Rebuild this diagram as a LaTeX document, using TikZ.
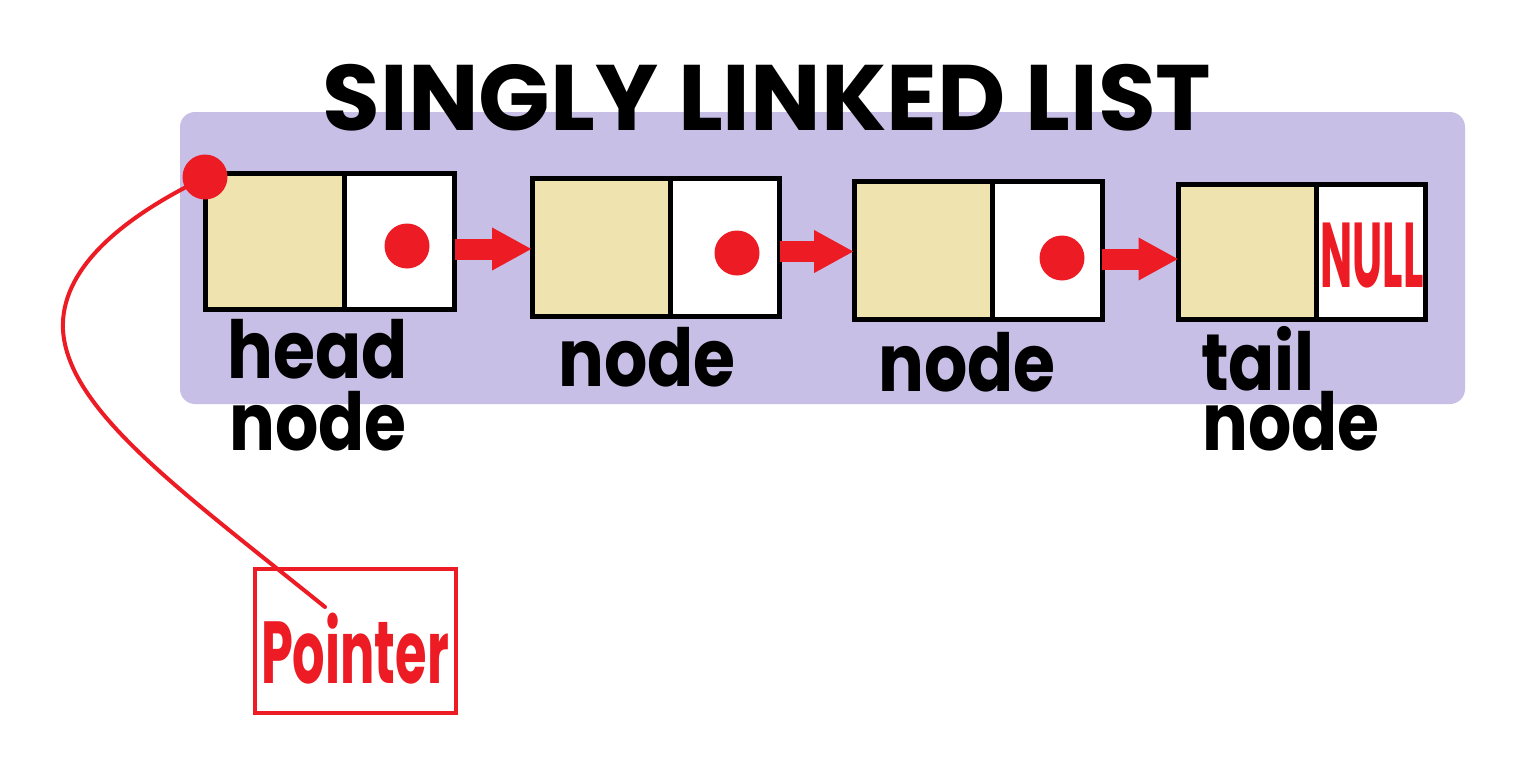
\documentclass[tikz,border=0pt]{standalone}
\usepackage{fontspec}
\setmainfont{Poppins}
\usetikzlibrary{arrows.meta,calc}
\definecolor{lav}{HTML}{C8BFE7}
\definecolor{tanc}{HTML}{EFE4B0}
\definecolor{pred}{HTML}{ED1C24}
\tikzset{
  cell/.style={draw=black, line width=5pt, inner sep=0pt, outer sep=0pt},
  datacell/.style={cell, fill=tanc},
  ptrcell/.style={cell, fill=white},
  reddot/.style={circle, fill=pred, minimum size=45pt, inner sep=0pt, outer sep=0pt},
  link/.style={draw=pred, line width=21pt, -{Triangle[length=40pt, width=40pt]}},
  lbl/.style={font=\bfseries\fontsize{80}{80}\selectfont, inner sep=0pt, anchor=base},
  ttl/.style={font=\bfseries\fontsize{93}{93}\selectfont, inner sep=0pt, anchor=base},
  redtxt/.style={inner sep=0pt, anchor=base, text=pred},
  ptrline/.style={draw=pred, line width=4pt, line cap=round},
  ptrbox/.style={draw=pred, line width=4pt, inner sep=0pt, minimum width=201pt, minimum height=144pt},
}
\begin{document}
\begin{tikzpicture}[x=1pt,y=-1pt]
\useasboundingbox (0,0) rectangle (1534,784);
\fill[white] (0,0) rectangle (1534,784);
\fill[lav, rounded corners=15pt] (180,112) rectangle (1465,404);
\node[ttl] (title) at (767,130) {\scalebox{1.01}[1]{SINGLY LINKED LIST}};

% cells
\node[datacell, minimum width=138.5pt, minimum height=136pt] (d1) at (274.75,241.5) {};
\node[ptrcell,  minimum width=110.5pt, minimum height=136pt] (p1) at (399.25,241.5) {};
\node[datacell, minimum width=138.5pt, minimum height=138pt] (d2) at (601.25,247.5) {};
\node[ptrcell,  minimum width=109pt,   minimum height=138pt] (p2) at (725,247.5) {};
\node[datacell, minimum width=138.7pt, minimum height=138pt] (d3) at (923.35,250.5) {};
\node[ptrcell,  minimum width=109.3pt, minimum height=138pt] (p3) at (1047.35,250.5) {};
\node[datacell, minimum width=137.5pt, minimum height=135pt] (d4) at (1247.25,252) {};
\node[ptrcell,  minimum width=109.5pt, minimum height=135pt] (p4) at (1370.75,252) {};

% dots
\node[reddot] (dot1) at (407,246) {};
\node[reddot] (dot2) at (737,253) {};
\node[reddot] (dot3) at (1062,258) {};
\node[reddot] (hdot) at (205,177) {};

% NULL
\node[redtxt, font=\bfseries\fontsize{92}{92}\selectfont] (null) at (1372,287) {\scalebox{0.465}[1]{NULL}};

% links
\draw[link] ($(p1.east)+(0,7.5)$) -- ($(d2.west)+(0,1.5)$);
\draw[link] ($(p2.east)+(0,4)$) -- ($(d3.west)+(0,1)$);
\draw[link] ($(p3.east)+(0,8.5)$) -- ($(d4.west)+(0,7)$);

% labels
\node[lbl] (l1a) at (318,378) {\scalebox{0.85}[1]{head}};
\node[lbl] (l1b) at (318,450) {\scalebox{0.85}[1]{node}};
\node[lbl] (l2) at (647,386) {\scalebox{0.85}[1]{node}};
\node[lbl] (l3) at (967,391) {\scalebox{0.85}[1]{node}};
\node[lbl] (l4a) at (1258,390) {\scalebox{0.85}[1]{tail}};
\node[lbl] (l4b) at (1291,450) {\scalebox{0.85}[1]{node}};

% pointer
\node[ptrbox] (pbox) at (355.5,641) {};
\node[redtxt, font=\bfseries\fontsize{88}{88}\selectfont] (ptxt) at (355,683) {\scalebox{0.58}[1]{Pointer}};
\coordinate (pend) at (325,607);
\draw[ptrline] (hdot) .. controls (120,222) and (60,270) .. (63,330)
  .. controls (68,410) and (180,490) .. (pend);
\end{tikzpicture}
\end{document}
